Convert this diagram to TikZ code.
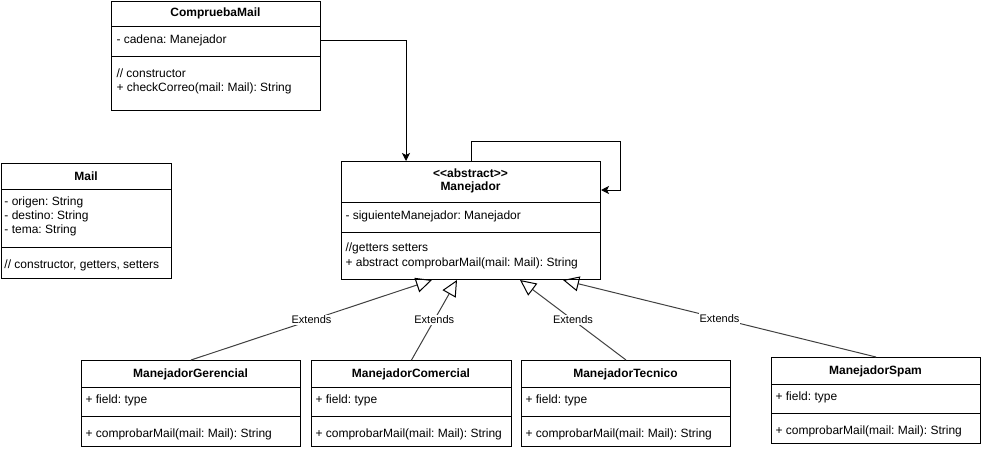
\documentclass[tikz,border=0pt]{standalone}
\usepackage{fontspec}
\setmainfont{Liberation Sans}
\usetikzlibrary{arrows.meta}
\frenchspacing

\tikzset{
    classbox/.style={draw, rectangle, anchor=north west, inner sep=0pt},
    cname/.style={font=\fontsize{12}{14}\selectfont\bfseries, inner sep=0pt},
    member/.style={font=\fontsize{12}{14}\selectfont, anchor=west, inner sep=0pt},
    assoc/.style={-{Stealth[length=8pt, width=8pt, inset=2pt]}},
    extends/.style={draw=black!75, -{Triangle[open, length=16pt, width=15pt, color=black]}},
    extlabel/.style={font=\fontsize{11}{13}\selectfont, fill=white, inner sep=1pt}
}

\begin{document}
\begin{tikzpicture}[x=1pt, y=-1pt, line width=1pt]
    \useasboundingbox (0,0) rectangle (981,450);
    % CompruebaMail
    \node[classbox, minimum width=209pt, minimum height=109pt] (cm) at (111,1) {};
    \node[cname] (cmname) at (215.5,13.5) {CompruebaMail};
    \draw (111,26) -- (320,26);
    \draw (111,56) -- (320,56);
    \node[member] (cmattr) at (116,40) {- cadena: Manejador};
    \node[member] (cmm1) at (116,73) {// constructor};
    \node[member] (cmm2) at (116,88) {+ checkCorreo(mail: Mail): String};
    % Mail
    \node[classbox, minimum width=170pt, minimum height=115pt] (ml) at (1,163) {};
    \node[cname] (mlname) at (86,176.5) {Mail};
    \draw (1,189) -- (171,189);
    \draw (1,247) -- (171,247);
    \node[member] (mla1) at (4,202) {- origen: String};
    \node[member] (mla2) at (4,216) {- destino: String};
    \node[member] (mla3) at (4,230) {- tema: String};
    \node[member] (mlm1) at (4,265) {// constructor, getters, setters};
    % Manejador (abstract)
    \node[classbox, minimum width=259pt, minimum height=118pt] (mj) at (341,161) {};
    \node[cname] (mjst) at (470.5,173) {<\kern0pt<abstract>\kern0pt>};
    \node[cname] (mjname) at (470.5,187.5) {Manejador};
    \draw (341,202) -- (600,202);
    \draw (341,232) -- (600,232);
    \node[member] (mjattr) at (345,216) {- siguienteManejador: Manejador};
    \node[member] (mjm1) at (345,248) {//getters setters};
    \node[member] (mjm2) at (345,263) {+ abstract comprobarMail(mail: Mail): String};
    % Subclasses
    \foreach \nm/\lbl/\x/\w/\y in {ger/ManejadorGerencial/81/219/360, com/ManejadorComercial/311/200/360,
        tec/ManejadorTecnico/521/209/360, spm/ManejadorSpam/771/209/357} {
        \node[classbox, minimum width=\w pt, minimum height=86pt] (\nm) at (\x,\y) {};
        \node[cname] (\nm name) at (\x+\w/2, \y+14) {\lbl};
        \draw (\x, \y+27) -- (\x+\w, \y+27);
        \draw (\x, \y+56) -- (\x+\w, \y+56);
        \node[member] (\nm attr) at (\x+4, \y+40) {+ field: type};
        \node[member] (\nm meth) at (\x+4, \y+74) {+ comprobarMail(mail: Mail): String};
    }
    % Association and self reference
    \draw[assoc] (cm.east |- cmattr) -| ([xshift=65pt]mj.north west);
    \coordinate (loop) at (620,141);
    \draw[assoc] (mj.north) |- (loop) |- ([yshift=-29pt]mj.north east);
    % Inheritance
    \foreach \nm/\dx in {ger/91, com/116, tec/179, spm/222} {
        \draw[extends] (\nm.north) -- node[extlabel] {Extends} ([xshift=\dx pt]mj.south west);
    }
\end{tikzpicture}
\end{document}
